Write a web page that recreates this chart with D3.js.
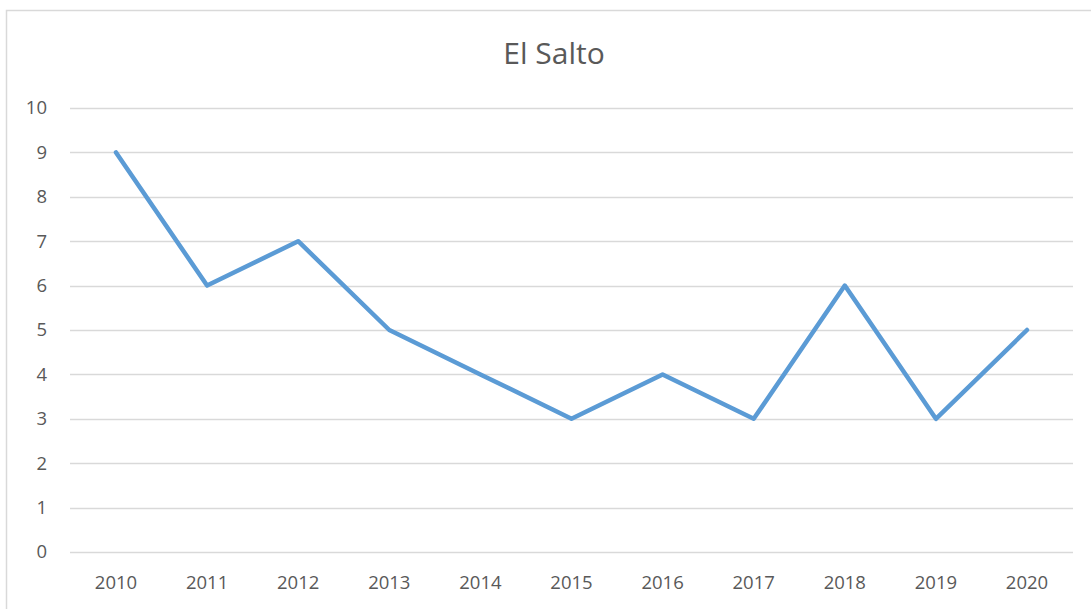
<!DOCTYPE html>
<html><head><meta charset="utf-8">
<script src="https://cdn.jsdelivr.net/npm/d3@7"></script>
<style>body{margin:0;background:#fff;}svg{display:block;}</style>
</head><body>
<script>
const years = ["2010","2011","2012","2013","2014","2015","2016","2017","2018","2019","2020"];
const values = [9,6,7,5,4,3,4,3,6,3,5];
const yTicks = [0,1,2,3,4,5,6,7,8,9,10];
const title = "El Salto";

const W = 1091, H = 609;
const svg = d3.select("body").append("svg").attr("width", W).attr("height", H);
svg.append("rect").attr("x", 6.5).attr("y", 10.5).attr("width", W + 10).attr("height", H + 10)
  .attr("fill", "#fff").attr("stroke", "#d9d9d9").attr("stroke-width", 1.5);

const x = d3.scalePoint().domain(years).range([116, 1027]);
const y = d3.scaleLinear().domain([0, 10]).range([552, 108]);
const font = "'Open Sans', 'Liberation Sans', sans-serif";

svg.append("g").selectAll("line").data(yTicks).join("line")
  .attr("x1", 70).attr("x2", 1073)
  .attr("y1", d => Math.round(y(d)) + 0.5).attr("y2", d => Math.round(y(d)) + 0.5)
  .attr("stroke", "#d9d9d9").attr("stroke-width", 1.5);

svg.append("g").selectAll("text").data(yTicks).join("text")
  .attr("x", 47).attr("y", d => y(d)).attr("dy", "0.35em")
  .attr("text-anchor", "end").attr("font-family", font).attr("font-size", 18.5).attr("fill", "#595959")
  .text(d => d);

svg.append("g").selectAll("text").data(years).join("text")
  .attr("x", d => x(d)).attr("y", 583).attr("dy", "0.35em")
  .attr("text-anchor", "middle").attr("font-family", font).attr("font-size", 18.5).attr("fill", "#595959")
  .text(d => d);

svg.append("text").attr("x", 554).attr("y", 53).attr("dy", "0.35em").attr("text-anchor", "middle")
  .attr("font-family", font).attr("font-size", 30).attr("fill", "#595959").text(title);

const line = d3.line().x((d, i) => x(years[i])).y(d => y(d));
svg.append("path").datum(values).attr("d", line).attr("fill", "none")
  .attr("stroke", "#5b9bd5").attr("stroke-width", 4.5).attr("stroke-linejoin", "round").attr("stroke-linecap", "round");
</script>
</body></html>
